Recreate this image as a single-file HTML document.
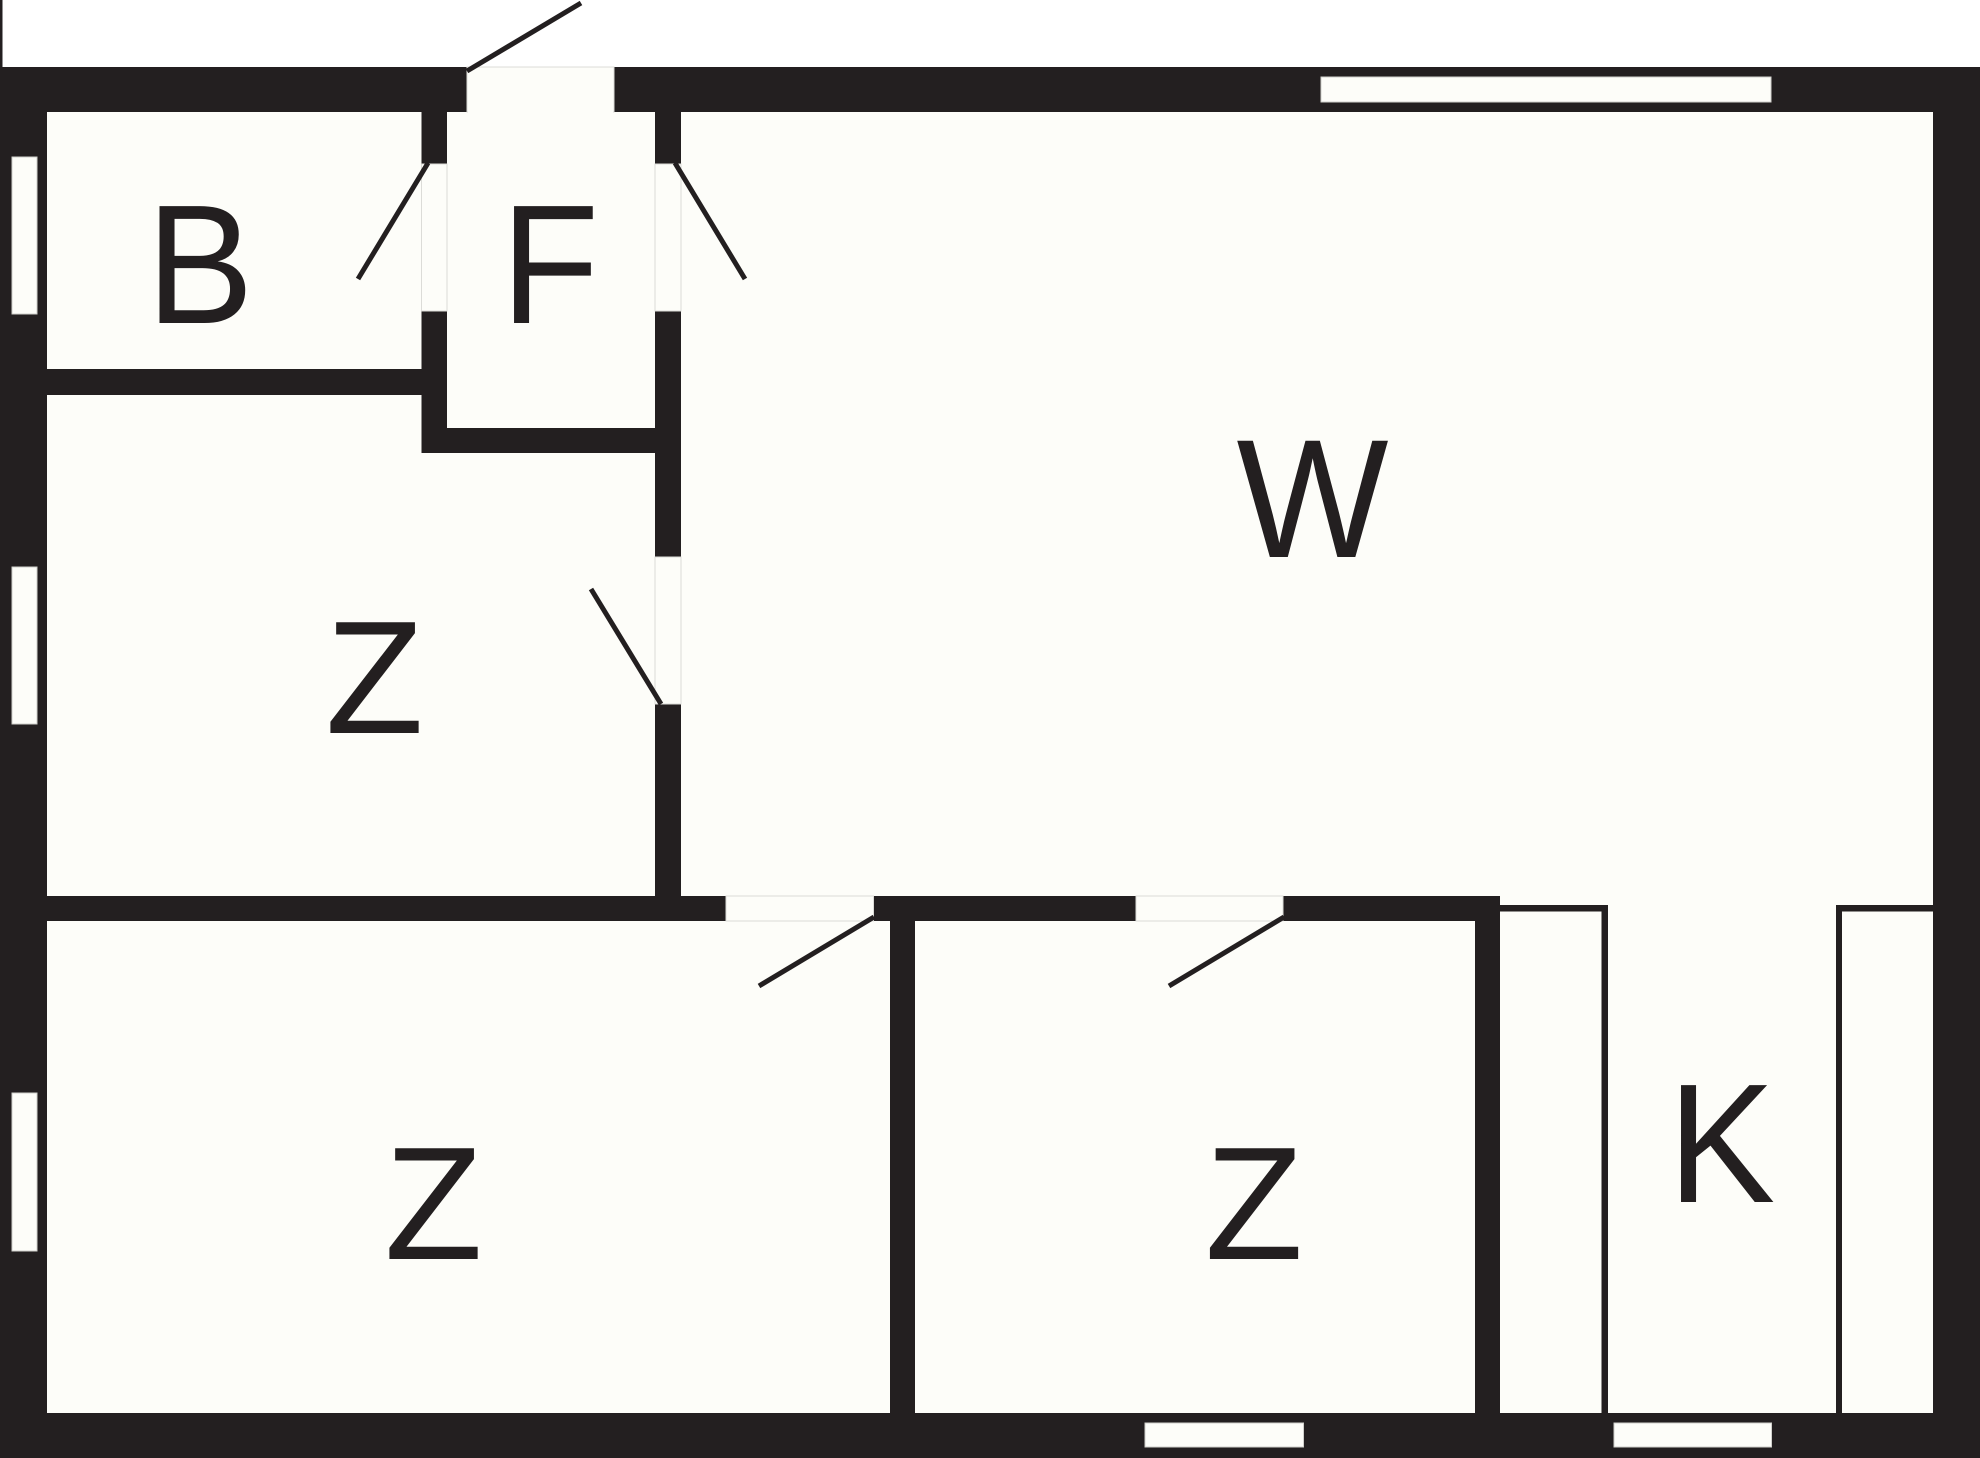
<!DOCTYPE html>
<html>
<head>
<meta charset="utf-8">
<style>
html,body{margin:0;padding:0;background:#ffffff;}
svg{display:block;}
</style>
</head>
<body>
<svg width="1980" height="1458" viewBox="0 0 1980 1458" xmlns="http://www.w3.org/2000/svg">
  <rect x="0" y="0" width="1980" height="1458" fill="#ffffff"/>
  <!-- thin left line above building -->
  <rect x="0" y="0" width="2.5" height="68" fill="#231f20"/>
  <!-- building mass (walls) -->
  <rect x="0" y="67" width="1980" height="1391" fill="#231f20"/>

  <g fill="#fdfdf9">
    <!-- B -->
    <rect x="47" y="112" width="374.5" height="257"/>
    <!-- F -->
    <rect x="447" y="112" width="208" height="316"/>
    <!-- Z upper left -->
    <polygon points="47,395 421.5,395 421.5,453 655,453 655,896 47,896"/>
    <!-- W + K -->
    <polygon points="681,112 1933,112 1933,1413 1500,1413 1500,896 681,896"/>
    <!-- Z bottom left -->
    <rect x="47" y="921" width="843" height="492"/>
    <!-- Z bottom middle -->
    <rect x="915" y="921" width="560" height="492"/>
  </g>

  <!-- door gaps -->
  <g fill="#fdfdf9" stroke="#dcdcd8" stroke-width="1">
    <rect x="467" y="67" width="147" height="45"/>
    <rect x="421.5" y="164" width="25.5" height="147"/>
    <rect x="655" y="164" width="26" height="147"/>
    <rect x="655" y="557" width="26" height="147"/>
    <rect x="726" y="896" width="147.5" height="25"/>
    <rect x="1136" y="896" width="147" height="25"/>
  </g>
  <g fill="#fdfdf9">
    <rect x="468" y="68" width="145" height="45"/>
    <rect x="422.5" y="165" width="23.5" height="145"/>
    <rect x="656" y="165" width="24" height="145"/>
    <rect x="656" y="558" width="24" height="145"/>
    <rect x="727" y="897" width="145.5" height="23"/>
    <rect x="1137" y="897" width="145" height="23"/>
  </g>

  <!-- windows -->
  <g fill="#fdfdf9" stroke="#d0d0cc" stroke-width="1">
    <rect x="1321" y="77" width="450" height="25"/>
    <rect x="12" y="157" width="25" height="157"/>
    <rect x="12" y="567" width="25" height="157"/>
    <rect x="12" y="1093" width="25" height="158"/>
    <rect x="1145" y="1423" width="158.5" height="24"/>
    <rect x="1614" y="1423" width="157.5" height="24"/>
  </g>

  <!-- kitchen cabinets -->
  <g fill="#231f20">
    <rect x="1500" y="905" width="108" height="6.5"/>
    <rect x="1601.5" y="905" width="6.5" height="508"/>
    <rect x="1836" y="905" width="98" height="6.5"/>
    <rect x="1836" y="905" width="6" height="508"/>
  </g>

  <!-- door swings -->
  <g stroke="#231f20" stroke-width="5" fill="none" stroke-linecap="butt">
    <line x1="467" y1="71" x2="581" y2="3"/>
    <line x1="428" y1="163" x2="358" y2="279"/>
    <line x1="675" y1="163" x2="745" y2="279"/>
    <line x1="661" y1="704" x2="591" y2="589"/>
    <line x1="874" y1="917" x2="759" y2="986"/>
    <line x1="1284" y1="917" x2="1169" y2="986"/>
  </g>

  <!-- labels -->
  <g font-family="'Liberation Sans', Arial, sans-serif" font-size="161" fill="#231f20" text-anchor="middle">
    <text transform="translate(200,323) scale(1,1.055)" x="0" y="0">B</text>
    <text transform="translate(550,323) scale(1,1.055)" x="0" y="0">F</text>
    <text transform="translate(1312.5,557) scale(1,1.05)" x="0" y="0">W</text>
    <text x="374.5" y="733">Z</text>
    <text x="433.5" y="1259">Z</text>
    <text x="1254" y="1259">Z</text>
    <text transform="translate(1721.5,1202) scale(1,1.055)" x="0" y="0">K</text>
  </g>
</svg>
</body>
</html>
